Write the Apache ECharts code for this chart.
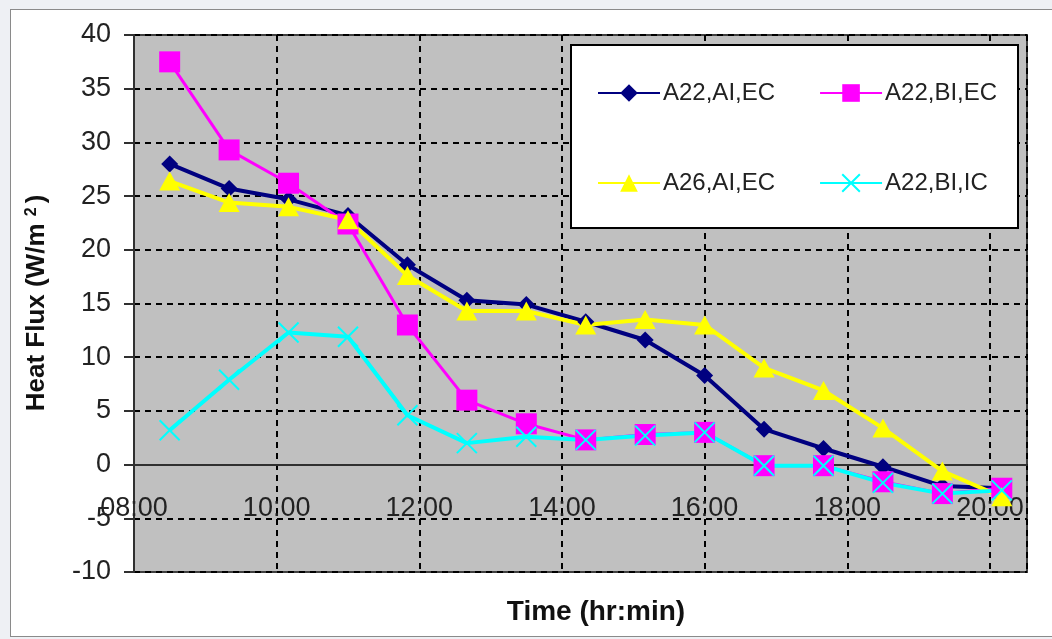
<!DOCTYPE html>
<html>
<head>
<meta charset="utf-8">
<script src="https://cdn.jsdelivr.net/npm/echarts@6/dist/echarts.min.js"></script>
<style>
  html, body { margin: 0; padding: 0; background: #eef0f4; }
  #frame { position: absolute; left: 10px; top: 9px; width: 1060px; height: 628px; background: #ffffff; border: 1.5px solid #8a8a8a; box-sizing: border-box; }
  #chart { position: absolute; left: 0; top: 0; width: 1052px; height: 639px; }
</style>
</head>
<body>
<div id="frame"></div>
<div id="chart"></div>
<script>
// ---- data ----
const times = ['08:30','09:20','10:10','11:00','11:50','12:40','13:30','14:20','15:10','16:00','16:50','17:40','18:30','19:20','20:10'];
const seriesNames = ['A22,AI,EC', 'A22,BI,EC', 'A26,AI,EC', 'A22,BI,IC'];
const a22_AI_EC = [28.0, 25.7, 24.7, 23.2, 18.6, 15.3, 14.9, 13.3, 11.6, 8.3, 3.3, 1.5, -0.2, -2.0, -2.2];
const a22_BI_EC = [37.5, 29.3, 26.2, 22.4, 13.0, 6.0, 3.8, 2.3, 2.8, 3.0, -0.1, -0.1, -1.6, -2.7, -2.2];
const a26_AI_EC = [26.4, 24.4, 24.0, 22.8, 17.6, 14.3, 14.3, 13.0, 13.5, 13.0, 9.0, 6.9, 3.4, -0.6, -3.0];
const a22_BI_IC = [3.2, 7.9, 12.3, 11.9, 4.6, 2.0, 2.6, 2.3, 2.7, 3.0, -0.1, -0.1, -1.7, -2.7, -2.4];
const xTickHours = [8, 10, 12, 14, 16, 18, 20];
const xMaxHours = 20.52;
const yMin = -10, yMax = 40;

function toHours(t) { const p = t.split(':'); return (+p[0]) + (+p[1]) / 60; }
function pair(vals) { return times.map((t, i) => [toHours(t), vals[i]]); }
function pad(n) { return (n < 10 ? '0' : '') + n; }

const FONT = '"Liberation Sans", Arial, sans-serif';
const chart = echarts.init(document.getElementById('chart'), null, { renderer: 'canvas' });

const xSymbol = 'path://M0,0L10,10M10,0L0,10';
const gridTop = 35, gridBottom = 67, H = 639;
const plotH = H - gridTop - gridBottom;
// distance from plot bottom up to the zero line (x axis crosses y = 0)
const zeroOffset = plotH * (0 - yMin) / (yMax - yMin);

chart.setOption({
  animation: false,
  backgroundColor: 'transparent',
  grid: {
    left: 134, right: 25, top: gridTop, bottom: gridBottom,
    show: true, backgroundColor: '#c0c0c0', borderColor: '#404040', borderWidth: 2
  },
  xAxis: {
    type: 'value', min: 8, max: xMaxHours, interval: 2,
    position: 'bottom', offset: -zeroOffset,
    axisLine: { show: true, onZero: false, lineStyle: { color: '#303030', width: 2 } },
    axisTick: { show: false },
    axisLabel: {
      show: true, margin: 30, fontSize: 27, color: '#222', fontFamily: FONT,
      showMaxLabel: false, hideOverlap: false,
      formatter: v => xTickHours.indexOf(v) >= 0 ? pad(v) + ':00' : ''
    },
    splitLine: { show: true, lineStyle: { color: '#000', type: [6, 5], width: 2 } }
  },
  yAxis: {
    type: 'value', min: yMin, max: yMax, interval: 5,
    axisLine: { show: true, onZero: false, lineStyle: { color: '#303030', width: 2 } },
    axisTick: { show: true, inside: false, length: 10, lineStyle: { color: '#303030', width: 2 } },
    axisLabel: { margin: 23, fontSize: 27, color: '#222', fontFamily: FONT },
    splitLine: { show: true, lineStyle: { color: '#000', type: [6, 5], width: 2 } }
  },
  legend: [
    {
      data: [seriesNames[0], seriesNames[1]], left: 592, top: 76, itemGap: 44,
      itemWidth: 62, itemHeight: 22, z: 6,
      textStyle: { fontSize: 24, color: '#222', fontFamily: FONT, padding: [0, 0, 0, -2] }
    },
    {
      data: [seriesNames[2], seriesNames[3]], left: 592, top: 166, itemGap: 44,
      itemWidth: 62, itemHeight: 22, z: 6,
      textStyle: { fontSize: 24, color: '#222', fontFamily: FONT, padding: [0, 0, 0, -2] }
    }
  ],
  graphic: [
    { type: 'rect', z: 5, shape: { x: 571, y: 45, width: 447, height: 183 },
      style: { fill: '#fff', stroke: '#000', lineWidth: 2 } },
    { type: 'text', x: 596, y: 612, z: 5,
      style: { text: 'Time (hr:min)', align: 'center', verticalAlign: 'middle',
               font: 'bold 28px "Liberation Sans", Arial, sans-serif', fill: '#111' } },
    { type: 'text', x: 37, y: 303, rotation: Math.PI / 2, z: 5,
      style: {
        text: '{a|Heat Flux (W/m }{s|2}{a|)}', align: 'center', verticalAlign: 'middle',
        rich: {
          a: { font: 'bold 26px "Liberation Sans", Arial, sans-serif', fill: '#111' },
          s: { font: 'bold 16px "Liberation Sans", Arial, sans-serif', fill: '#111', verticalAlign: 'top', padding: [0, 4, 10, 0] }
        }
      } }
  ],
  series: [
    { name: seriesNames[0], type: 'line', data: pair(a22_AI_EC), z: 2,
      symbol: 'diamond', symbolSize: [17, 17], lineStyle: { color: '#000080', width: 4 },
      itemStyle: { color: '#000080' } },
    { name: seriesNames[1], type: 'line', data: pair(a22_BI_EC), z: 2,
      symbol: 'rect', symbolSize: 21, lineStyle: { color: '#ff00ff', width: 3 },
      itemStyle: { color: '#ff00ff' } },
    { name: seriesNames[2], type: 'line', data: pair(a26_AI_EC), z: 2,
      symbol: 'triangle', symbolSize: [21, 19], lineStyle: { color: '#ffff00', width: 4 },
      itemStyle: { color: '#ffff00' } },
    { name: seriesNames[3], type: 'line', data: pair(a22_BI_IC), z: 2,
      symbol: xSymbol, symbolSize: 20, lineStyle: { color: '#00ffff', width: 4 },
      itemStyle: { color: '#00ffff', borderColor: '#00ffff', borderWidth: 2 } }
  ]
});
</script>
</body>
</html>
